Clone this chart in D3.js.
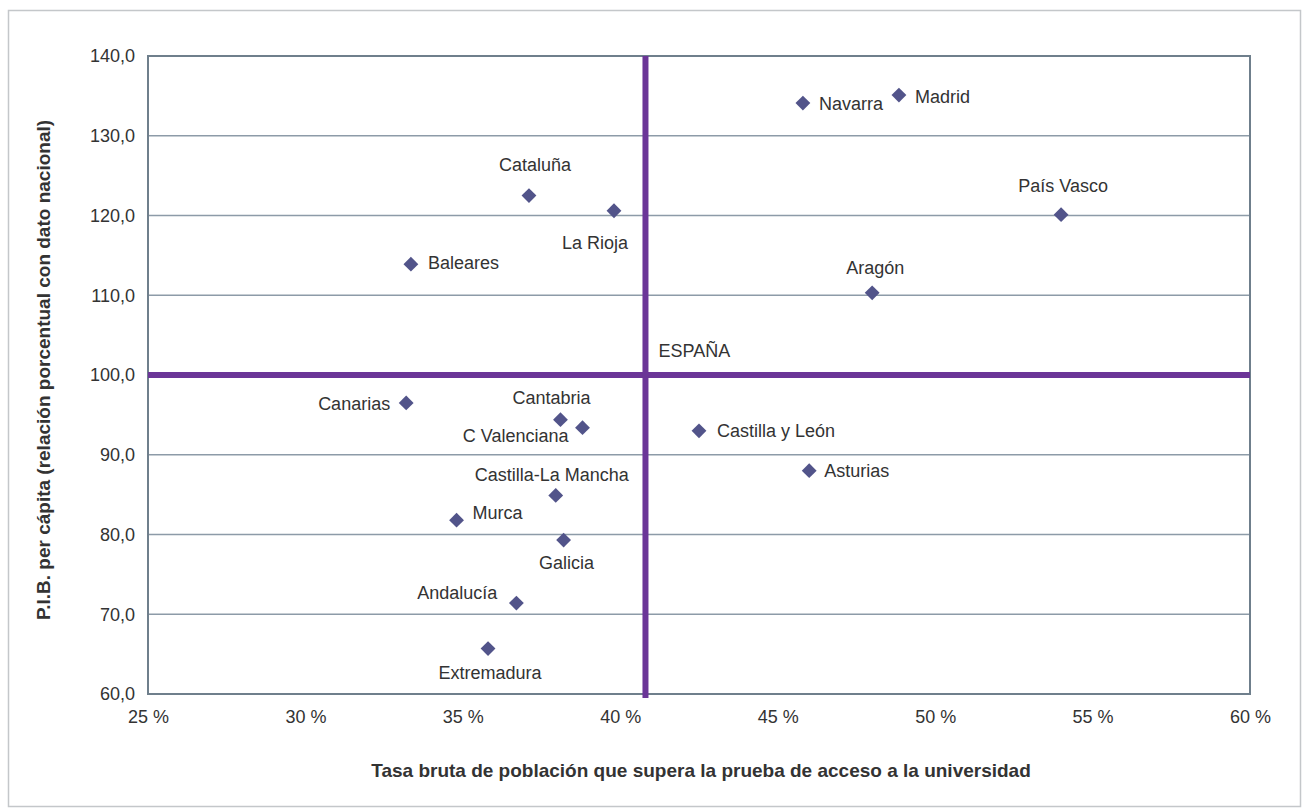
<!DOCTYPE html>
<html><head><meta charset="utf-8">
<script src="https://cdn.jsdelivr.net/npm/d3@7"></script>
<style>
body{margin:0;background:#fff;}
text{font-family:"Liberation Sans",Arial,sans-serif;fill:#333;}
</style></head>
<body><svg id="c" width="1308" height="809"></svg>
<script>
const regions = ["Madrid","Navarra","País Vasco","Aragón","Cataluña","La Rioja","Baleares","Canarias","Cantabria","C Valenciana","Castilla y León","Asturias","Castilla-La Mancha","Murca","Galicia","Andalucía","Extremadura"];
const accessRate = [48.85,45.8,54.0,48.0,37.1,39.8,33.35,33.2,38.1,38.8,42.5,46.0,37.95,34.8,38.2,36.7,35.8];
const gdpIndex = [135.1,134.1,120.1,110.3,122.5,120.6,113.9,96.5,94.4,93.4,93.0,88.0,84.9,81.8,79.3,71.4,65.7];
const nationalRate = 40.8;
const nationalGdp = 100;
const nationalLabel = "ESPAÑA";
const xTicks = [25,30,35,40,45,50,55,60];
const yTicks = [60,70,80,90,100,110,120,130,140];
const xTitle = "Tasa bruta de población que supera la prueba de acceso a la universidad";
const yTitle = "P.I.B. per cápita (relación porcentual con dato nacional)";

// label layout only: anchor and pixel offset from the marker
const labelAnchor = ["start","start","middle","middle","middle","middle","start","end","middle","end","start","start","middle","start","middle","end","middle"];
const labelOffset = [[16,2],[16,1],[2,-29],[3,-25],[6,-31],[-19,32],[17,-1],[-16,1],[-9,-22],[-14,8],[18,0],[15,0],[-4,-20],[16,-7],[3,23],[-19,-10],[2,24]];

const svg = d3.select("#c");
const m = {l:148, r:1250, t:56, b:694};
const x = d3.scaleLinear().domain([25,60]).range([m.l,m.r]);
const y = d3.scaleLinear().domain([60,140]).range([m.b,m.t]);

// outer frame
svg.append("rect").attr("x",8.5).attr("y",10.5).attr("width",1292).attr("height",796)
  .attr("fill","#fff").attr("stroke","#c4c7ca").attr("stroke-width",1.5);

// gridlines
svg.append("g").selectAll("line").data(yTicks.slice(1,-1)).join("line")
  .attr("x1",m.l).attr("x2",m.r).attr("y1",d=>y(d)).attr("y2",d=>y(d))
  .attr("stroke","#8d9ba8").attr("stroke-width",1.4);

// plot border
svg.append("rect").attr("x",m.l).attr("y",m.t).attr("width",m.r-m.l).attr("height",m.b-m.t)
  .attr("fill","none").attr("stroke","#6f7f8c").attr("stroke-width",2);

// axes
const yAxis = d3.axisLeft(y).tickValues(yTicks).tickSize(0).tickPadding(13)
  .tickFormat(d=>d3.format(".1f")(d).replace(".",","));
const gy = svg.append("g").attr("transform",`translate(${m.l},0)`).call(yAxis);
gy.select(".domain").remove();
gy.selectAll("text").style("font-size","18px").style("font-family","'Liberation Sans',Arial,sans-serif").attr("fill","#3a3a3a");

const xAxis = d3.axisBottom(x).tickValues(xTicks).tickSize(0).tickPadding(16)
  .tickFormat(d=>d+" %");
const gx = svg.append("g").attr("transform",`translate(0,${m.b})`).call(xAxis);
gx.select(".domain").remove();
gx.selectAll("text").style("font-size","18px").style("font-family","'Liberation Sans',Arial,sans-serif").attr("fill","#3a3a3a");

// national reference lines
svg.append("line").attr("x1",m.l).attr("x2",m.r).attr("y1",y(nationalGdp)).attr("y2",y(nationalGdp))
  .attr("stroke","#6b3597").attr("stroke-width",6);
svg.append("line").attr("x1",x(nationalRate)).attr("x2",x(nationalRate)).attr("y1",m.t).attr("y2",m.b+4)
  .attr("stroke","#6b3597").attr("stroke-width",6);
svg.append("text").attr("x",x(nationalRate)+13).attr("y",y(nationalGdp)-24)
  .attr("dominant-baseline","central")
  .style("font-size","18px").attr("fill","#2e2e2e").text(nationalLabel);

// points
const data = regions.map((r,i)=>({r, xv:accessRate[i], yv:gdpIndex[i], a:labelAnchor[i], o:labelOffset[i]}));
const sym = d3.symbol().type(d3.symbolSquare).size(110);
svg.append("g").selectAll("path").data(data).join("path")
  .attr("d",sym)
  .attr("transform",d=>`translate(${x(d.xv)},${y(d.yv)}) rotate(45)`)
  .attr("fill","#52548a");

// labels
svg.append("g").selectAll("text").data(data).join("text")
  .style("font-size","18px").attr("fill","#333")
  .attr("text-anchor",d=>d.a)
  .attr("dominant-baseline","central")
  .attr("x",d=>x(d.xv)+d.o[0])
  .attr("y",d=>y(d.yv)+d.o[1])
  .text(d=>d.r);

// axis titles
svg.append("text").attr("x",701).attr("y",770).attr("text-anchor","middle")
  .attr("dominant-baseline","central")
  .style("font-size","19px").style("font-weight","bold").attr("fill","#333").text(xTitle);
svg.append("text").attr("transform",`translate(43,370) rotate(-90)`).attr("text-anchor","middle")
  .attr("dominant-baseline","central")
  .style("font-size","19px").style("font-weight","bold").attr("fill","#333").text(yTitle);
</script>
</body></html>
